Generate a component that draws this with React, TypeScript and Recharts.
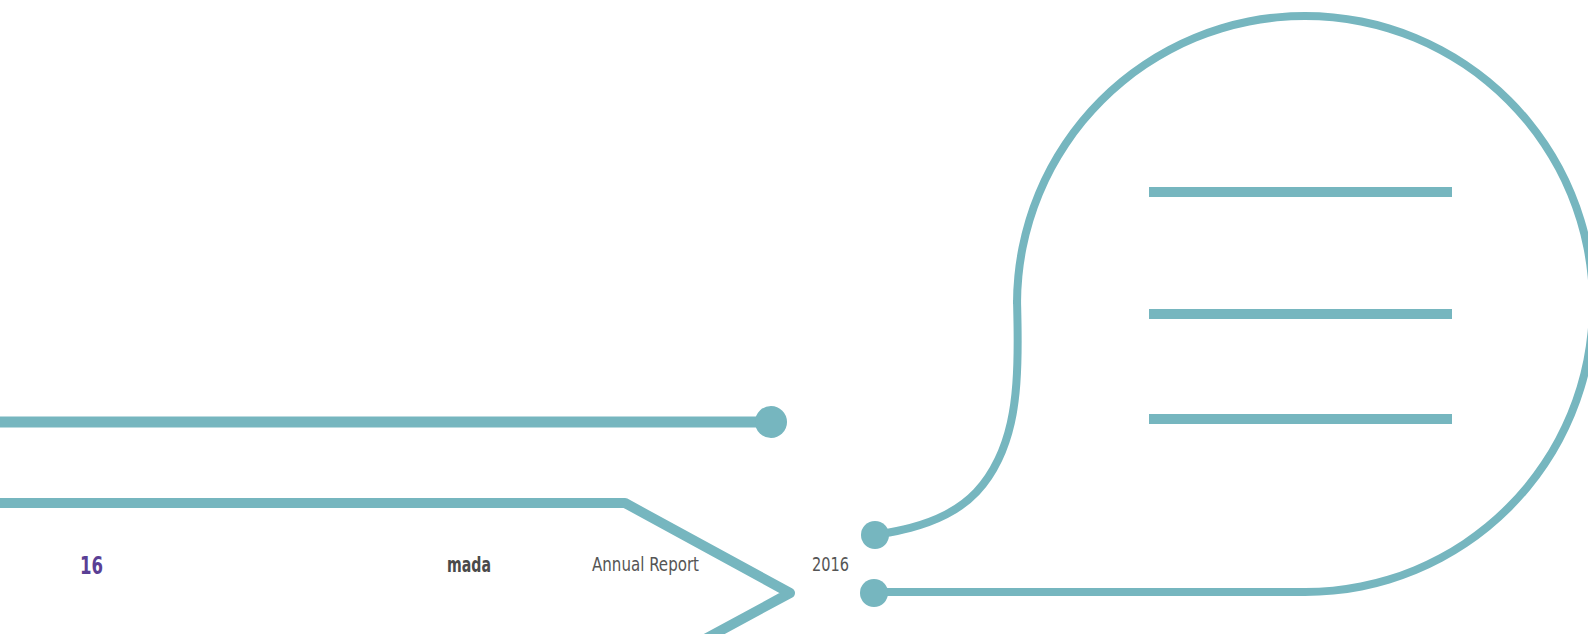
import React from "react";
import { ComposedChart, Line, Scatter, XAxis, YAxis, PieChart, Pie, Cell } from "recharts";

const W = 1588;
const H = 634;
const TEAL = "#76b6bf";

// bubble ring (one slice drawn as an arc)
const ringData = [{ name: "bubble", value: 1 }];
// tail of the bubble
const tail = [
  { x: 1017, y: 300 },
  { x: 1018, y: 340 },
  { x: 1017, y: 385 },
  { x: 1012, y: 423 },
  { x: 1000, y: 460 },
  { x: 978, y: 494 },
  { x: 947, y: 516 },
  { x: 910, y: 529 },
  { x: 875, y: 535 },
];
const bottomLine = [
  { x: 874, y: 592 },
  { x: 1306, y: 592 },
];
const textLine1 = [
  { x: 1149, y: 192 },
  { x: 1452, y: 192 },
];
const textLine2 = [
  { x: 1149, y: 314 },
  { x: 1452, y: 314 },
];
const textLine3 = [
  { x: 1149, y: 419 },
  { x: 1452, y: 419 },
];
const leftLine = [
  { x: 0, y: 422 },
  { x: 771, y: 422 },
];
const chevron = [
  { x: 0, y: 503 },
  { x: 625, y: 503 },
  { x: 790, y: 593 },
  { x: 694, y: 645 },
];
const bigDots = [{ x: 771, y: 422 }];
const smallDots = [
  { x: 875, y: 535 },
  { x: 874, y: 593 },
];

const footer = [
  { text: "16", x: 80, y: 574, size: 24, len: 23, weight: 700, color: "#5a3f95" },
  { text: "mada", x: 447, y: 572, size: 21, len: 44, weight: 700, color: "#4a4a4a" },
  { text: "Annual Report", x: 592, y: 571, size: 20, len: 107, weight: 400, color: "#555555" },
  { text: "2016", x: 812, y: 571, size: 20, len: 37, weight: 400, color: "#555555" },
];

const dotShape = (r: number) => (props: any) => (
  <circle cx={props.cx} cy={props.cy} r={r} fill={TEAL} />
);

export default function App() {
  const lineProps = {
    dataKey: "y",
    stroke: TEAL,
    dot: false,
    activeDot: false,
    isAnimationActive: false,
    legendType: "none" as const,
  };
  return (
    <div style={{ position: "absolute", left: 0, top: 0, width: W, height: H, background: "#fff", overflow: "hidden" }}>
      <div style={{ position: "absolute", left: 0, top: 0 }}>
        <PieChart width={W} height={H} margin={{ top: 0, right: 0, bottom: 0, left: 0 }}>
          <Pie
            data={ringData}
            dataKey="value"
            cx={1305}
            cy={304}
            innerRadius={284}
            outerRadius={292}
            startAngle={180}
            endAngle={-90}
            stroke="none"
            isAnimationActive={false}
          >
            <Cell fill={TEAL} />
          </Pie>
        </PieChart>
      </div>
      <div style={{ position: "absolute", left: 0, top: 0 }}>
        <ComposedChart width={W} height={H} margin={{ top: 0, right: 0, bottom: 0, left: 0 }}>
          <XAxis dataKey="x" type="number" domain={[0, W]} allowDataOverflow hide />
          <YAxis dataKey="y" type="number" domain={[0, H]} reversed allowDataOverflow hide />
          <Line {...lineProps} data={tail} type="basis" strokeWidth={8} strokeLinejoin="round" />
          <Line {...lineProps} data={bottomLine} type="linear" strokeWidth={8} />
          <Line {...lineProps} data={textLine1} type="linear" strokeWidth={10} strokeLinecap="butt" />
          <Line {...lineProps} data={textLine2} type="linear" strokeWidth={10} strokeLinecap="butt" />
          <Line {...lineProps} data={textLine3} type="linear" strokeWidth={10} strokeLinecap="butt" />
          <Line {...lineProps} data={leftLine} type="linear" strokeWidth={11} />
          <Line {...lineProps} data={chevron} type="linear" strokeWidth={10} strokeLinejoin="round" />
          <Scatter data={bigDots} shape={dotShape(16)} isAnimationActive={false} />
          <Scatter data={smallDots} shape={dotShape(14)} isAnimationActive={false} />
        </ComposedChart>
      </div>
      <svg width={W} height={H} style={{ position: "absolute", left: 0, top: 0 }}>
        {footer.map((f) => (
          <text
            key={f.text}
            x={f.x}
            y={f.y}
            fontSize={f.size}
            fontWeight={f.weight}
            fill={f.color}
            textLength={f.len}
            lengthAdjust="spacingAndGlyphs"
            fontFamily="'DejaVu Sans Condensed', 'DejaVu Sans', sans-serif"
          >
            {f.text}
          </text>
        ))}
      </svg>
    </div>
  );
}
